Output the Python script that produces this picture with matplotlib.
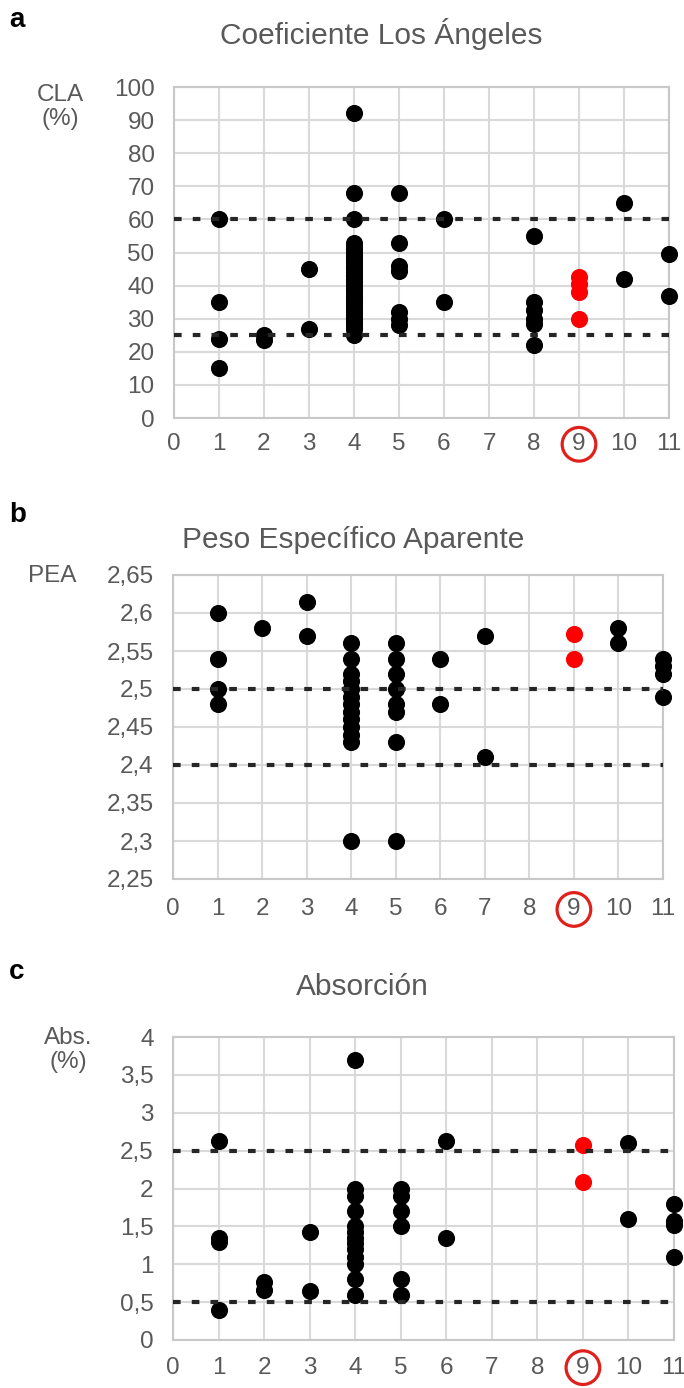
import numpy as np
import matplotlib
matplotlib.use("Agg")
import matplotlib.pyplot as plt

plt.rcParams['font.family'] = ['Liberation Sans', 'DejaVu Sans']
plt.rcParams['lines.scale_dashes'] = False

# ---- data: (category, value) pairs, red = category 9
cla_x = [1, 1, 1, 1, 2, 2, 3, 3] + [4] * 31 + [5] * 7 + [6, 6] + [8] * 6 + [10, 10, 11, 11]
cla_y = [60, 35, 24, 15, 25, 23.5, 45, 27,
         92, 68, 60, 53, 52, 51, 50, 49, 48, 47, 46, 45, 44, 43, 42, 41, 40, 39, 38, 37, 36,
         35, 34, 33, 32, 31, 30, 29, 28, 27, 25,
         68, 53, 46, 44.5, 32, 30, 28,
         60, 35,
         55, 35, 32.5, 30, 28.5, 22,
         65, 42, 49.5, 37]
cla_red_x = [9, 9, 9, 9]
cla_red_y = [42.5, 40.5, 38, 30]
cla_limits = [60, 25]

pea_x = [1, 1, 1, 1, 2, 3, 3] + [4] * 13 + [5] * 8 + [6, 6, 7, 7, 10, 10, 11, 11, 11, 11]
pea_y = [2.60, 2.54, 2.50, 2.48, 2.58, 2.615, 2.57,
         2.56, 2.54, 2.52, 2.51, 2.50, 2.49, 2.48, 2.47, 2.46, 2.45, 2.44, 2.43, 2.30,
         2.56, 2.54, 2.52, 2.50, 2.48, 2.47, 2.43, 2.30,
         2.54, 2.48, 2.57, 2.41, 2.58, 2.56, 2.54, 2.53, 2.52, 2.49]
pea_red_x = [9, 9]
pea_red_y = [2.572, 2.54]
pea_limits = [2.5, 2.4]

abs_x = [1, 1, 1, 1, 2, 2, 3, 3] + [4] * 13 + [5] * 6 + [6, 6, 10, 10, 11, 11, 11, 11]
abs_y = [2.63, 1.35, 1.29, 0.4, 0.76, 0.66, 1.43, 0.65,
         3.7, 2.0, 1.9, 1.7, 1.5, 1.42, 1.35, 1.28, 1.2, 1.1, 1.0, 0.8, 0.6,
         2.0, 1.9, 1.7, 1.5, 0.8, 0.6,
         2.63, 1.34, 2.6, 1.6, 1.8, 1.57, 1.52, 1.1]
abs_red_x = [9, 9]
abs_red_y = [2.58, 2.08]
abs_limits = [2.5, 0.5]

x_ticks = list(range(0, 12))

W, H = 684, 1388
fig = plt.figure(figsize=(W / 100, H / 100), dpi=100)

gray = '#595959'
grid = '#d9d9d9'


def px_box(l, r, t, b):
    return [l / W, 1 - b / H, (r - l) / W, (b - t) / H]


def panel(box, xs, ys, rx, ry, limits, yticks, xpad):
    ax = fig.add_axes(box)
    ax.set_xlim(0, 11)
    ax.set_ylim(yticks[0], yticks[-1])
    ax.set_xticks(x_ticks)
    ax.set_yticks(yticks)
    ax.set_yticklabels([('%g' % round(v, 2)).replace('.', ',') for v in yticks])
    ax.grid(True, color=grid, lw=1.5, zorder=0)
    ax.set_axisbelow(True)
    for s in ax.spines.values():
        s.set_color('#c8c8c8')
        s.set_linewidth(1.5)
    ax.tick_params(axis='both', length=0, labelsize=17.5, labelcolor=gray)
    ax.tick_params(axis='x', pad=xpad)
    ax.tick_params(axis='y', pad=14)
    ax.plot(xs, ys, 'o', color='black', ms=11.3, clip_on=False, zorder=3)
    ax.plot(rx, ry, 'o', color='#ff0000', ms=11.3, clip_on=False, zorder=3)
    for v in limits:
        ax.axhline(v, color='#262626', lw=3, dashes=(5.5, 8), zorder=4)
    lab = ax.get_xticklabels()[9]
    lab.set_bbox(dict(boxstyle='circle,pad=0.24', fc='none', ec='#e0201b', lw=2.3))
    return ax


panel(px_box(174, 669, 87, 418), cla_x, cla_y, cla_red_x, cla_red_y, cla_limits,
      list(range(0, 101, 10)), 11)
panel(px_box(173, 663, 575, 879), pea_x, pea_y, pea_red_x, pea_red_y, pea_limits,
      list(np.round(np.arange(2.25, 2.651, 0.05), 2)), 14)
panel(px_box(173, 674, 1037, 1340), abs_x, abs_y, abs_red_x, abs_red_y, abs_limits,
      list(np.arange(0, 4.01, 0.5)), 12)

# titles and labels
fig.text(381 / W, 1 - 34 / H, 'Coeficiente Los Ángeles', ha='center', va='center', fontsize=21.5, color=gray)
fig.text(353 / W, 1 - 540 / H, 'Peso Específico Aparente', ha='center', va='center', fontsize=21.5, color=gray)
fig.text(362 / W, 1 - 987 / H, 'Absorción', ha='center', va='center', fontsize=21.5, color=gray)

fig.text(9 / W, 1 - 20 / H, 'a', fontsize=20, fontweight='bold', va='center')
fig.text(9 / W, 1 - 515 / H, 'b', fontsize=20, fontweight='bold', va='center')
fig.text(9 / W, 1 - 972 / H, 'c', fontsize=20, fontweight='bold', va='center')

fig.text(60 / W, 1 - 107 / H, 'CLA\n(%)', ha='center', va='center', fontsize=17.5, color=gray, linespacing=1.15)
fig.text(52 / W, 1 - 576 / H, 'PEA', ha='center', va='center', fontsize=17.5, color=gray)
fig.text(68 / W, 1 - 1050 / H, 'Abs.\n(%)', ha='center', va='center', fontsize=17.5, color=gray, linespacing=1.15)

fig.savefig('out.png', dpi=100, facecolor='white')
